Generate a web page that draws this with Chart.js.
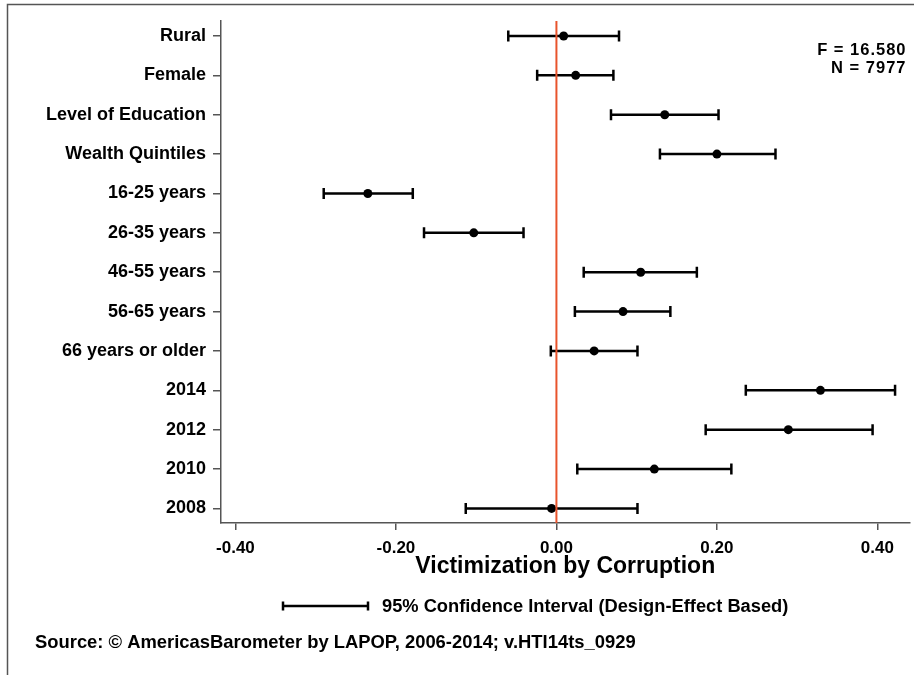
<!DOCTYPE html>
<html>
<head>
<meta charset="utf-8">
<script src="https://cdn.jsdelivr.net/npm/chart.js@4.4.1/dist/chart.umd.min.js"></script>
<style>
  html, body { margin: 0; padding: 0; background: #fff; }
  canvas { display: block; }
</style>
</head>
<body>
<canvas id="c" width="914" height="675"></canvas>
<script>
const categories = ['Rural', 'Female', 'Level of Education', 'Wealth Quintiles', '16-25 years', '26-35 years',
  '46-55 years', '56-65 years', '66 years or older', '2014', '2012', '2010', '2008'];
const coef  = [0.009, 0.024, 0.135, 0.200, -0.235, -0.103, 0.105, 0.083, 0.047, 0.329, 0.289, 0.122, -0.006];
const lower = [-0.060, -0.024, 0.068, 0.129, -0.290, -0.165, 0.034, 0.023, -0.007, 0.236, 0.186, 0.026, -0.113];
const upper = [0.078, 0.071, 0.202, 0.273, -0.179, -0.041, 0.175, 0.142, 0.101, 0.422, 0.394, 0.218, 0.101];
const xTicks = [-0.40, -0.20, 0.00, 0.20, 0.40];
const statsText = ['F = 16.580', 'N = 7977'];
const axisTitle = 'Victimization by Corruption';
const legendText = '95% Confidence Interval (Design-Effect Based)';
const sourceText = 'Source: \u00A9 AmericasBarometer by LAPOP, 2006-2014; v.HTI14ts_0929';

const FONT = "'Liberation Sans', Arial, sans-serif";
const AXIS = '#555555';
const INK = '#000000';
const ZERO = '#e8542c';

const decor = {
  id: 'decor',
  beforeDraw(chart) {
    const ctx = chart.ctx;
    ctx.save();
    ctx.strokeStyle = AXIS;
    ctx.lineWidth = 1.5;
    ctx.beginPath();
    ctx.moveTo(7.5, chart.height);
    ctx.lineTo(7.5, 4.5);
    ctx.lineTo(chart.width, 4.5);
    ctx.stroke();
    ctx.restore();
  },
  beforeDatasetsDraw(chart) {
    const ctx = chart.ctx, xs = chart.scales.x, ys = chart.scales.y;
    ctx.save();
    ctx.strokeStyle = '#000';
    ctx.lineWidth = 2.5;
    categories.forEach((c, i) => {
      const y = ys.getPixelForValue(i);
      const x1 = xs.getPixelForValue(lower[i]);
      const x2 = xs.getPixelForValue(upper[i]);
      ctx.beginPath();
      ctx.moveTo(x1, y); ctx.lineTo(x2, y);
      ctx.moveTo(x1, y - 5.5); ctx.lineTo(x1, y + 5.5);
      ctx.moveTo(x2, y - 5.5); ctx.lineTo(x2, y + 5.5);
      ctx.stroke();
    });
    ctx.restore();
  },
  afterDatasetsDraw(chart) {
    const ctx = chart.ctx, xs = chart.scales.x, a = chart.chartArea;
    ctx.save();
    const x0 = xs.getPixelForValue(0);
    ctx.strokeStyle = ZERO;
    ctx.lineWidth = 2;
    ctx.beginPath();
    ctx.moveTo(x0, a.top);
    ctx.lineTo(x0, a.bottom);
    ctx.stroke();
    ctx.restore();
  },
  afterDraw(chart) {
    const ctx = chart.ctx, a = chart.chartArea;
    ctx.save();
    ctx.fillStyle = INK;
    ctx.textBaseline = 'middle';
    // stats annotation
    ctx.font = 'bold 16.5px ' + FONT;
    ctx.letterSpacing = '1px';
    ctx.textAlign = 'right';
    ctx.fillText(statsText[0], a.right - 3, 50);
    ctx.fillText(statsText[1], a.right - 3, 68);
    ctx.letterSpacing = '0px';
    // legend symbol
    ctx.strokeStyle = '#000';
    ctx.lineWidth = 2.5;
    ctx.beginPath();
    ctx.moveTo(283, 606); ctx.lineTo(368, 606);
    ctx.moveTo(283, 601.5); ctx.lineTo(283, 610.5);
    ctx.moveTo(368, 601.5); ctx.lineTo(368, 610.5);
    ctx.stroke();
    ctx.textAlign = 'left';
    ctx.font = 'bold 18.3px ' + FONT;
    ctx.fillText(legendText, 382, 607);
    ctx.font = 'bold 18.4px ' + FONT;
    ctx.fillText(sourceText, 35, 643);
    ctx.restore();
  }
};

new Chart(document.getElementById('c'), {
  type: 'scatter',
  data: {
    datasets: [{
      data: categories.map((c, i) => ({ x: coef[i], y: i })),
      backgroundColor: '#000',
      borderColor: '#000',
      borderWidth: 0,
      pointRadius: 4.5,
      pointHoverRadius: 4.5
    }]
  },
  options: {
    responsive: false,
    devicePixelRatio: 1,
    animation: false,
    events: [],
    layout: { padding: { left: 0, top: 21, right: 4, bottom: 95 } },
    plugins: { legend: { display: false }, tooltip: { enabled: false } },
    scales: {
      x: {
        type: 'linear',
        position: 'bottom',
        min: -0.418,
        max: 0.44,
        afterBuildTicks: s => { s.ticks = xTicks.map(v => ({ value: v })); },
        afterFit: s => { s.height = 57; },
        ticks: {
          autoSkip: false, maxRotation: 0, padding: 8, color: INK,
          font: { family: FONT, weight: 'bold', size: 17 },
          callback: v => Number(v).toFixed(2)
        },
        grid: { drawOnChartArea: false, drawTicks: true, tickLength: 7, color: AXIS, lineWidth: 1.5 },
        border: { display: true, color: AXIS, width: 1.5 },
        title: {
          display: true, text: axisTitle, color: INK,
          font: { family: FONT, weight: 'bold', size: 23 },
          padding: { top: 0, bottom: 0 }
        }
      },
      y: {
        type: 'linear',
        position: 'left',
        reverse: true,
        min: -0.38,
        max: 12.37,
        afterBuildTicks: s => { s.ticks = categories.map((c, i) => ({ value: i })); },
        afterFit: s => { s.width = 221; },
        ticks: {
          autoSkip: false, padding: 7, color: INK,
          font: { family: FONT, weight: 'bold', size: 18 },
          callback: v => categories[v]
        },
        grid: { drawOnChartArea: false, drawTicks: true, tickLength: 8, color: AXIS, lineWidth: 1.5 },
        border: { display: true, color: AXIS, width: 1.5 }
      }
    }
  },
  plugins: [decor]
});
</script>
</body>
</html>
